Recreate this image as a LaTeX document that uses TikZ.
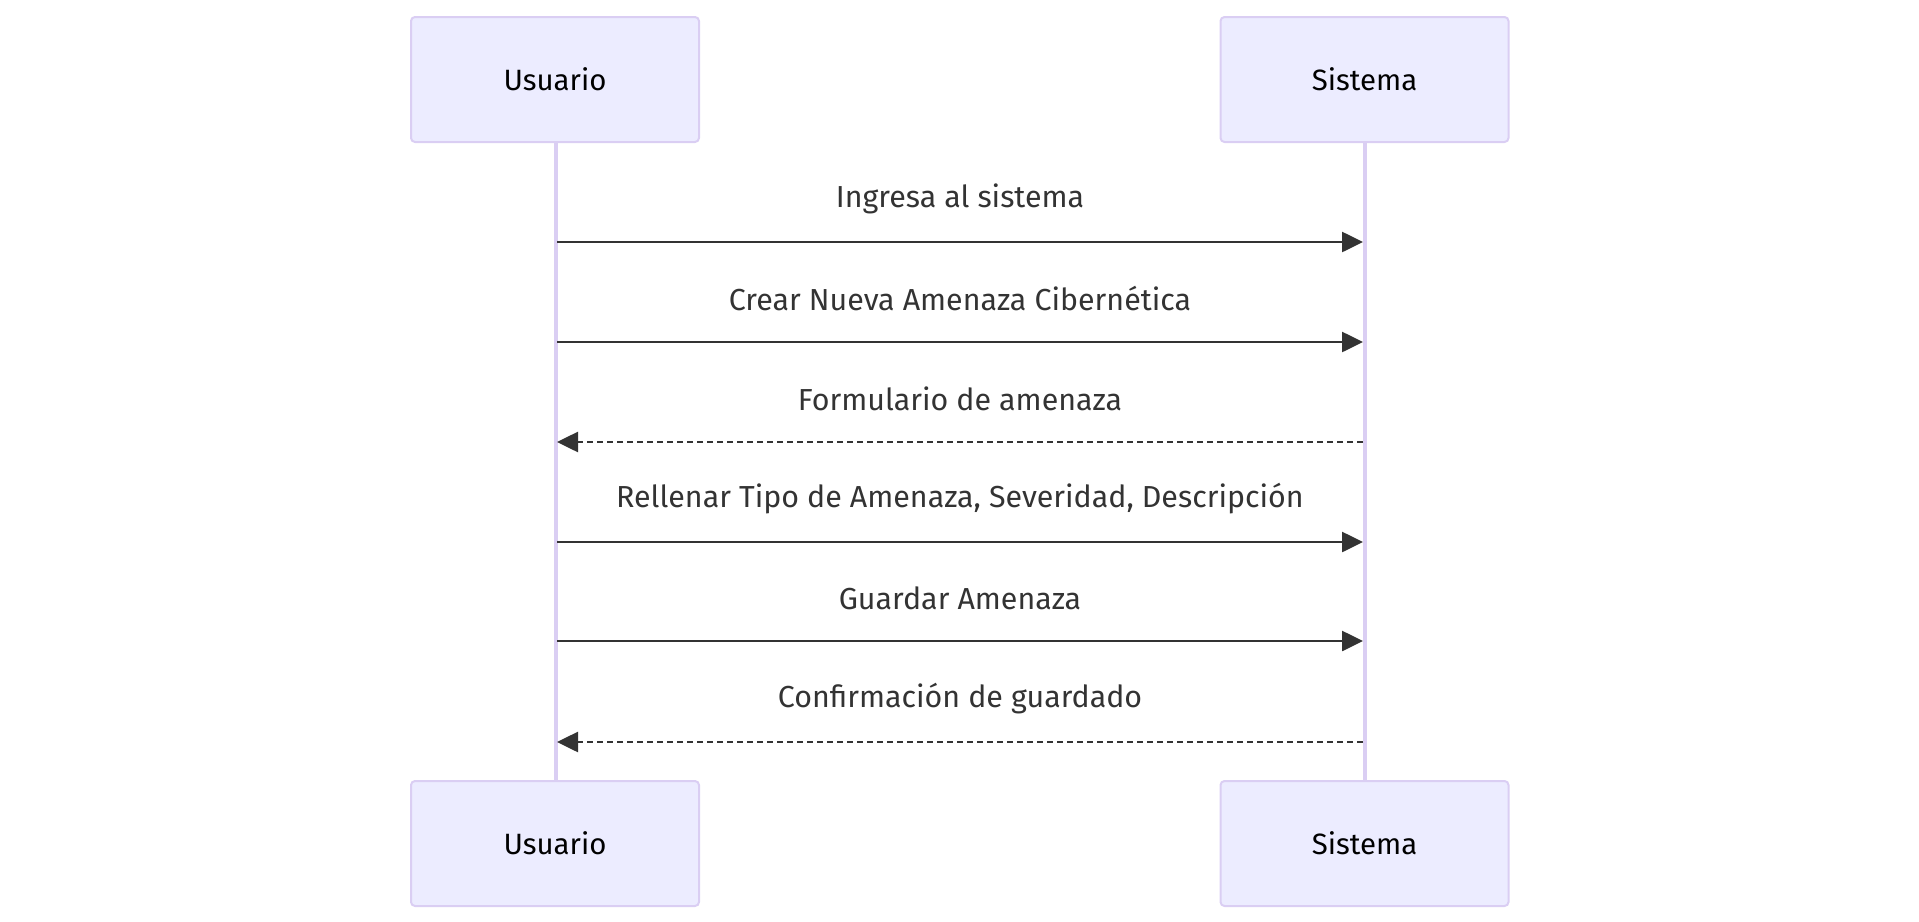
\documentclass[tikz,border=0pt]{standalone}
\usepackage{fontspec}
\setmainfont{Fira Sans}
\usetikzlibrary{arrows.meta}
\definecolor{actfill}{HTML}{ECECFF}
\definecolor{actline}{HTML}{DACEF3}
\definecolor{msg}{HTML}{333333}
\tikzset{
  x=1bp, y=-1bp,
  actor/.style={draw=actline, line width=2bp, fill=actfill, rounded corners=4bp, minimum width=288bp, minimum height=125bp, inner sep=0pt, font=\fontsize{29.5}{34}\selectfont, text=black},
  life/.style={draw=actline, line width=4bp},
  msgsolid/.style={draw=msg, line width=2.6bp, -{Triangle[length=21bp,width=20bp]}},
  msgdash/.style={draw=msg, line width=2.6bp, dash pattern=on 6bp off 4bp, -{Triangle[length=21bp,width=20bp]}},
  lbl/.style={font=\fontsize{30.5}{36}\selectfont, text=msg, inner sep=0pt}
}
\begin{document}
\begin{tikzpicture}
\useasboundingbox (0,0) rectangle (1919,922);
\draw[life] (555.5,142) -- (555.5,781);
\draw[life] (1365,142) -- (1365,781);
\node[actor] (u1) at (555,79.5) {Usuario};
\node[actor] (s1) at (1364.5,79.5) {Sistema};
\node[actor] (u2) at (555,843.5) {Usuario};
\node[actor] (s2) at (1364.5,843.5) {Sistema};
\coordinate (ua) at (557,242); \coordinate (sa) at (1363,242);
\coordinate (ub) at (557,342); \coordinate (sb) at (1363,342);
\coordinate (uc) at (557,442); \coordinate (sc) at (1363,442);
\coordinate (ud) at (557,542); \coordinate (sd) at (1363,542);
\coordinate (ue) at (557,641); \coordinate (se) at (1363,641);
\coordinate (uf) at (557,742); \coordinate (sf) at (1363,742);
\draw[msgsolid] (ua) -- (sa);
\draw[msgsolid] (ub) -- (sb);
\draw[msgdash] (sc) -- (uc);
\draw[msgsolid] (ud) -- (sd);
\draw[msgsolid] (ue) -- (se);
\draw[msgdash] (sf) -- (uf);
\node[lbl] (la) at (960,199) {Ingresa al sistema};
\node[lbl] (lb) at (960,299) {Crear Nueva Amenaza Cibernética};
\node[lbl] (lc) at (960,399) {Formulario de amenaza};
\node[lbl] (ld) at (960,499) {Rellenar Tipo de Amenaza, Severidad, Descripción};
\node[lbl] (le) at (960,598) {Guardar Amenaza};
\node[lbl] (lf) at (960,699) {Confirmación de guardado};
\end{tikzpicture}
\end{document}
